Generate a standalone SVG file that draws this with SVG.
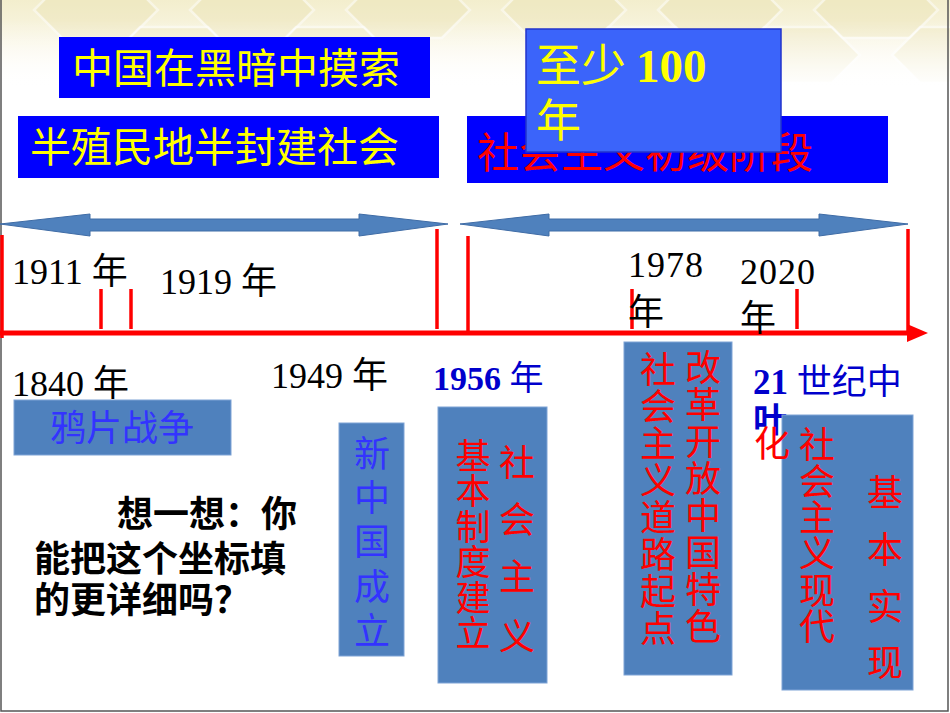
<svg xmlns="http://www.w3.org/2000/svg" width="950" height="713" viewBox="0 0 950 713">
<defs>
<linearGradient id="bg" x1="0" y1="0" x2="0" y2="1">
<stop offset="0" stop-color="#F3EECD"/>
<stop offset="0.55" stop-color="#FAF7E8"/>
<stop offset="1" stop-color="#FFFFFF"/>
</linearGradient>
<linearGradient id="fade" x1="0" y1="0" x2="0" y2="1">
<stop offset="0" stop-color="#FFFFFF" stop-opacity="0"/>
<stop offset="1" stop-color="#FFFFFF" stop-opacity="1"/>
</linearGradient>
<style>
.cjk{font-family:"Noto Sans CJK SC","Noto Sans",sans-serif}
.yr{font-family:"Liberation Serif","Noto Sans CJK SC",serif;font-size:36px;fill:#000}
.yb{font-family:"Liberation Serif","Noto Sans CJK SC",serif;font-weight:bold;fill:#0000CC}
.hdr{fill:#0000FF}
.sb{fill:#4F81BD;stroke:#7EA3D6;stroke-width:1}
.ylw{fill:#FFFF00;font-size:41px}
.red{fill:#FF0000}
.blu{fill:#3333FF}
.tick{stroke:#FF0000;stroke-width:3.5}
.dbl{fill:#4F81BD;stroke:#3F6CA6;stroke-width:1}
.hex{fill:#EBE3B5;stroke:#FFFFFF;stroke-width:2.5;opacity:0.45}
</style>
</defs>
<rect x="0" y="0" width="950" height="713" fill="#FFFFFF"/>
<rect x="0" y="0" width="950" height="85" fill="url(#bg)"/>
<g id="hexes">
<polygon class="hex" points="34,10 62,-18 130,-18 158,10 130,38 62,38"/>
<polygon class="hex" points="190,10 218,-18 286,-18 314,10 286,38 218,38"/>
<polygon class="hex" points="346,10 374,-18 442,-18 470,10 442,38 374,38"/>
<polygon class="hex" points="502,10 530,-18 598,-18 626,10 598,38 530,38"/>
<polygon class="hex" points="658,10 686,-18 754,-18 782,10 754,38 686,38"/>
<polygon class="hex" points="814,10 842,-18 910,-18 938,10 910,38 842,38"/>
<polygon class="hex" points="112,55 140,27 208,27 236,55 208,83 140,83"/>
<polygon class="hex" points="268,55 296,27 364,27 392,55 364,83 296,83"/>
<polygon class="hex" points="580,55 608,27 676,27 704,55 676,83 608,83"/>
<polygon class="hex" points="736,55 764,27 832,27 860,55 832,83 764,83"/>
<polygon class="hex" points="892,55 920,27 988,27 1016,55 988,83 920,83"/>
</g>
<rect x="0" y="20" width="950" height="70" fill="url(#fade)"/>
<g id="frame" stroke="#555" stroke-width="1.5" fill="none">
<path d="M1,0 V711 H948 V0"/>
</g>

<g id="connectors">
<polygon class="dbl" points="0,224 90,214 90,219 359,219 359,214 448,224 359,236 359,231 90,231 90,236"/>
<polygon class="dbl" points="460,224 549,214 549,219 819,219 819,214 908,224 819,236 819,231 549,231 549,236"/>
<line x1="0" y1="333" x2="912" y2="333" stroke="#FF0000" stroke-width="5"/>
<polygon points="907,324 928,333 907,342" fill="#FF0000"/>
<line class="tick" x1="2" y1="235" x2="2" y2="338"/>
<line class="tick" x1="101" y1="289" x2="101" y2="329"/>
<line class="tick" x1="131" y1="289" x2="131" y2="329"/>
<line class="tick" x1="437" y1="229" x2="437" y2="329"/>
<line class="tick" x1="468" y1="236" x2="468" y2="333"/>
<line class="tick" x1="632" y1="289" x2="632" y2="329"/>
<line class="tick" x1="797" y1="289" x2="797" y2="329"/>
<line class="tick" x1="908" y1="229" x2="908" y2="333"/>
</g>

<g id="n-dark">
<rect class="hdr" x="59" y="37" width="371" height="61"/>
<text class="cjk ylw" x="72" y="83">中国在黑暗中摸索</text>
</g>
<g id="n-semi">
<rect class="hdr" x="18" y="116" width="421" height="62"/>
<text class="cjk ylw" x="30" y="162">半殖民地半封建社会</text>
</g>
<g id="n-primary">
<rect class="hdr" x="467" y="116" width="421" height="67"/>
<text class="cjk red" x="477" y="168" font-size="42">社会主义初级阶段</text>
</g>
<g id="n-100">
<rect x="526" y="29" width="255" height="123" fill="#3B64FA" stroke="#2233CC" stroke-width="1.5"/>
<text class="cjk" x="536" y="82" font-size="45" fill="#FFFF00">至少 <tspan font-family="Liberation Serif" font-weight="bold" font-size="47">100</tspan></text>
<text class="cjk" x="536" y="137" font-size="45" fill="#FFFF00">年</text>
</g>

<g id="years">
<text class="yr" x="12" y="284">1911 年</text>
<text class="yr" x="160" y="294">1919 年</text>
<text class="yr" x="12" y="396">1840 年</text>
<text class="yr" x="271" y="388">1949 年</text>
<text class="yb" x="433" y="390" font-size="34">1956 <tspan font-weight="normal">年</tspan></text>
<text class="yr" x="628" y="277" letter-spacing="1">1978</text>
<text class="yr" x="628" y="325" font-size="34">年</text>
<text class="yr" x="740" y="284" letter-spacing="1">2020</text>
<text class="yr" x="740" y="331" font-size="34">年</text>
<text class="yb" x="753" y="394" font-size="35">21 <tspan font-weight="normal">世纪中</tspan></text>
<text class="yb" x="753" y="432" font-size="34" font-weight="normal">叶</text>
</g>

<g id="n-opium">
<rect class="sb" x="14" y="400" width="217" height="55"/>
<text class="cjk blu" x="50" y="441" font-size="36">鸦片战争</text>
</g>

<g id="n-newchina">
<rect class="sb" x="339" y="423" width="65" height="233"/>
<text class="cjk blu" font-size="36" text-anchor="middle">
<tspan x="372" y="467">新</tspan><tspan x="372" y="511">中</tspan><tspan x="372" y="555">国</tspan><tspan x="372" y="600">成</tspan><tspan x="372" y="644">立</tspan>
</text>
</g>

<g id="n-1956">
<rect class="sb" x="438" y="407" width="109" height="276"/>
<text class="cjk red" font-size="35" text-anchor="middle">
<tspan x="473" y="469">基</tspan><tspan x="473" y="504">本</tspan><tspan x="473" y="540">制</tspan><tspan x="473" y="575">度</tspan><tspan x="473" y="611">建</tspan><tspan x="473" y="646">立</tspan>
</text>
<text class="cjk red" font-size="36" text-anchor="middle">
<tspan x="517" y="476">社</tspan><tspan x="517" y="533">会</tspan><tspan x="517" y="590">主</tspan><tspan x="517" y="650">义</tspan>
</text>
</g>

<g id="n-1978">
<rect class="sb" x="624" y="342" width="108" height="333"/>
<text class="cjk red" font-size="36" text-anchor="middle">
<tspan x="658" y="383">社</tspan><tspan x="658" y="420">会</tspan><tspan x="658" y="457">主</tspan><tspan x="658" y="494">义</tspan><tspan x="658" y="531">道</tspan><tspan x="658" y="568">路</tspan><tspan x="658" y="605">起</tspan><tspan x="658" y="642">点</tspan>
</text>
<text class="cjk red" font-size="36" text-anchor="middle">
<tspan x="703" y="381">改</tspan><tspan x="703" y="418">革</tspan><tspan x="703" y="455">开</tspan><tspan x="703" y="492">放</tspan><tspan x="703" y="529">中</tspan><tspan x="703" y="566">国</tspan><tspan x="703" y="603">特</tspan><tspan x="703" y="640">色</tspan>
</text>
</g>

<g id="n-2020">
<rect class="sb" x="782" y="415" width="131" height="275"/>
<text class="cjk red" font-size="36" text-anchor="middle">
<tspan x="817" y="458">社</tspan><tspan x="817" y="495">会</tspan><tspan x="817" y="531">主</tspan><tspan x="817" y="567">义</tspan><tspan x="817" y="604">现</tspan><tspan x="817" y="640">代</tspan>
</text>
<text class="cjk red" font-size="36" text-anchor="middle">
<tspan x="885" y="506">基</tspan><tspan x="885" y="563">本</tspan><tspan x="885" y="620">实</tspan><tspan x="885" y="676">现</tspan>
</text>
<text class="cjk red" font-size="36" text-anchor="middle" x="772" y="457">化</text>
</g>

<g id="n-think">
<text class="cjk" font-size="36" font-weight="bold" fill="#000">
<tspan x="117" y="527">想一想：你</tspan>
<tspan x="34" y="572">能把这个坐标填</tspan>
<tspan x="34" y="613">的更详细吗？</tspan>
</text>
</g>
</svg>
